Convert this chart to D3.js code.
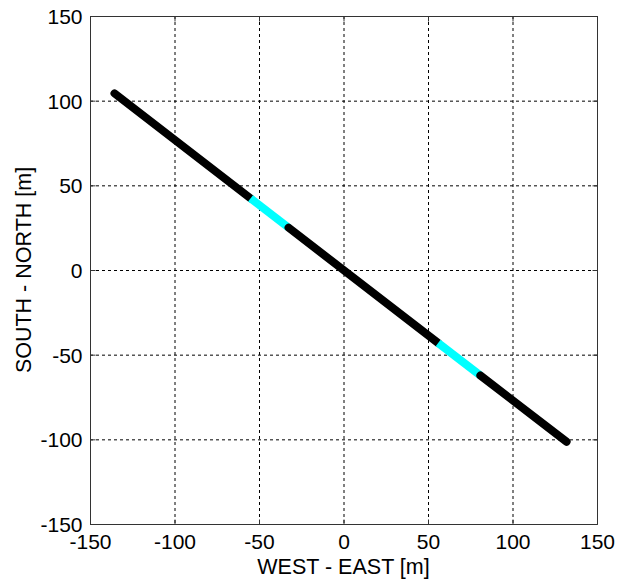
<!DOCTYPE html>
<html>
<head>
<meta charset="utf-8">
<script src="https://cdn.jsdelivr.net/npm/d3@7"></script>
<style>
  html, body { margin: 0; padding: 0; background: #fff; }
  svg { display: block; }
  text { font-family: "Liberation Sans", Arial, sans-serif; fill: #000; }
</style>
</head>
<body>
<svg id="chart" width="617" height="582"></svg>
<script>
// Array track layout: vertices along the line (metres)
const trackX = [-135.5, -55, -32.5, 56, 81, 132];
const trackY = [104.3, 42.3, 25, -43.1, -62.3, -101.4];
// Colour of each segment between consecutive vertices
const segmentColors = ["#000000", "#00ffff", "#000000", "#00ffff", "#000000"];

const xTicks = [-150, -100, -50, 0, 50, 100, 150];
const yTicks = [-150, -100, -50, 0, 50, 100, 150];
const xDomain = [-150, 150];
const yDomain = [-150, 150];

const svg = d3.select("#chart");
const plotL = 90, plotR = 597, plotT = 16, plotB = 524;

const x = d3.scaleLinear().domain(xDomain).range([plotL, plotR]);
const y = d3.scaleLinear().domain(yDomain).range([plotB, plotT]);

// plain hyphen-minus for negative tick labels
const fmt = d => String(d);

// dashed grid
const grid = svg.append("g");
grid.selectAll("line.gx").data(xTicks).join("line")
  .attr("x1", d => x(d) + 0.5).attr("x2", d => x(d) + 0.5)
  .attr("y1", plotT).attr("y2", plotB)
  .attr("stroke", "#000").attr("stroke-width", 1)
  .attr("stroke-dasharray", "3,3");
grid.selectAll("line.gy").data(yTicks).join("line")
  .attr("y1", d => y(d) + 0.5).attr("y2", d => y(d) + 0.5)
  .attr("x1", plotL).attr("x2", plotR)
  .attr("stroke", "#000").attr("stroke-width", 1)
  .attr("stroke-dasharray", "3,3");

// track segments
const segs = d3.range(trackX.length - 1).map(i => ({
  x1: trackX[i], y1: trackY[i], x2: trackX[i + 1], y2: trackY[i + 1], c: segmentColors[i]
}));
svg.append("g").selectAll("line").data(segs).join("line")
  .attr("x1", d => x(d.x1)).attr("y1", d => y(d.y1))
  .attr("x2", d => x(d.x2)).attr("y2", d => y(d.y2))
  .attr("stroke", d => d.c)
  .attr("stroke-width", 8)
  .attr("stroke-linecap", d => d.c === "#000000" ? "round" : "butt");

// axes with inward ticks
const fs = 21;
const xAxis = d3.axisBottom(x).tickValues(xTicks).tickSize(-5).tickPadding(10).tickFormat(fmt);
const yAxis = d3.axisLeft(y).tickValues(yTicks).tickSize(-5).tickPadding(8).tickFormat(fmt);
const xTop = d3.axisTop(x).tickValues(xTicks).tickSize(-5).tickFormat("");
const yRight = d3.axisRight(y).tickValues(yTicks).tickSize(-5).tickFormat("");

function style(g) {
  g.select(".domain").attr("stroke", "#333").attr("stroke-width", 1);
  g.selectAll(".tick line").attr("stroke", "#333");
  g.selectAll(".tick text").attr("font-size", fs).attr("fill", "#000")
    .attr("font-family", "Liberation Sans, Arial, sans-serif");
}
svg.append("g").attr("transform", `translate(0,${plotB + 0.5})`).call(xAxis).call(style)
  .call(g => g.select(".domain").attr("d", `M${plotL},0H${plotR + 0.5}`));
svg.append("g").attr("transform", `translate(${plotL + 0.5},0)`).call(yAxis).call(style)
  .call(g => g.select(".domain").attr("d", `M0,${plotT}V${plotB + 0.5}`))
  .call(g => g.selectAll(".tick text").attr("dy", "0.36em"));
svg.append("g").attr("transform", `translate(0,${plotT + 0.5})`).call(xTop).call(style)
  .call(g => g.select(".domain").attr("d", `M${plotL},0H${plotR + 0.5}`));
svg.append("g").attr("transform", `translate(${plotR + 0.5},0)`).call(yRight).call(style)
  .call(g => g.select(".domain").attr("d", `M0,${plotT}V${plotB + 0.5}`));

// axis titles
svg.append("text").attr("x", (plotL + plotR) / 2).attr("y", 574)
  .attr("text-anchor", "middle").attr("font-size", 21.5).text("WEST - EAST [m]");
svg.append("text")
  .attr("transform", `translate(31,${(plotT + plotB) / 2}) rotate(-90)`)
  .attr("text-anchor", "middle").attr("font-size", 21.5).text("SOUTH - NORTH [m]");
</script>
</body>
</html>
